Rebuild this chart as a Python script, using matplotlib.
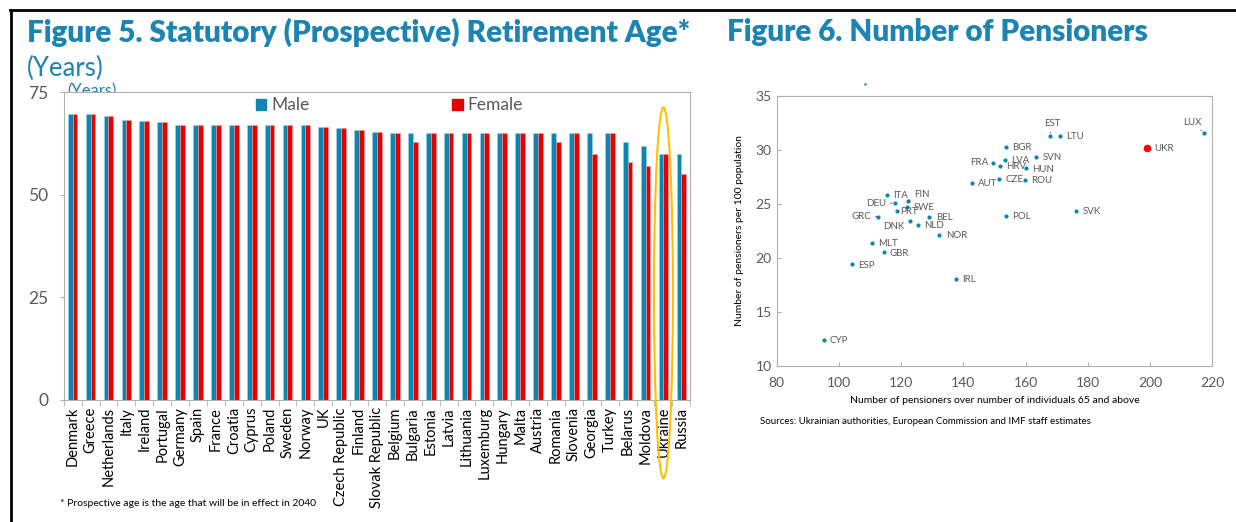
import matplotlib.pyplot as plt
from matplotlib.patches import Ellipse, Patch
import numpy as np

plt.rcParams['font.family'] = ['Lato', 'DejaVu Sans']

# Figure 5 data
countries = ['Denmark', 'Greece', 'Netherlands', 'Italy', 'Ireland', 'Portugal', 'Germany',
             'Spain', 'France', 'Croatia', 'Cyprus', 'Poland', 'Sweden', 'Norway', 'UK',
             'Czech Republic', 'Finland', 'Slovak Republic', 'Belgium', 'Bulgaria', 'Estonia',
             'Latvia', 'Lithuania', 'Luxemburg', 'Hungary', 'Malta', 'Austria', 'Romania',
             'Slovenia', 'Georgia', 'Turkey', 'Belarus', 'Moldova', 'Ukraine', 'Russia']
male = [69.8, 69.8, 69.3, 68.3, 67.9, 67.7, 67, 67, 67, 67, 67, 67, 67, 67, 66.6,
        66.4, 65.9, 65.3, 65, 65, 65, 65, 65, 65, 65, 65, 65, 65,
        65, 65, 65, 63, 62, 60, 60]
female = [69.8, 69.8, 69.3, 68.3, 67.9, 67.7, 67, 67, 67, 67, 67, 67, 67, 67, 66.6,
          66.4, 65.9, 65.3, 65, 62.8, 65, 65, 65, 65, 65, 65, 65, 62.8,
          65, 60, 65, 58, 57, 60, 55]
age_ticks = [0, 25, 50, 75]

# Figure 6 data
codes = ['EST', 'LTU', 'LUX', 'BGR', 'SVN', 'LVA', 'FRA', 'HRV', 'HUN', 'CZE', 'ROU',
         'AUT', 'ITA', 'FIN', 'DEU', 'SWE', 'PRT', 'GRC', 'BEL', 'DNK', 'NLD', 'NOR',
         'MLT', 'GBR', 'ESP', 'POL', 'SVK', 'IRL', 'CYP']
pens_ratio = [167.9, 170.9, 217.3, 153.6, 163.4, 153.4, 149.4, 151.8, 160.0, 151.5, 159.8,
              142.7, 115.5, 122.3, 118.0, 121.9, 118.7, 112.5, 129.1, 122.7, 125.5, 132.3,
              110.6, 114.4, 104.1, 153.7, 176.2, 137.5, 95.1]
pens_per100 = [31.3, 31.3, 31.55, 30.25, 29.33, 29.05, 28.8, 28.5, 28.28, 27.3, 27.23,
               26.9, 25.84, 25.29, 25.05, 24.73, 24.36, 23.8, 23.8, 23.44, 23.04, 22.11,
               21.35, 20.51, 19.4, 23.87, 24.36, 18.07, 12.4]
ukr_ratio, ukr_per100 = 198.9, 30.19
stray_ratio, stray_per100 = 108.4, 36.05

teal = '#1B84B2'
blue = '#0A86B0'
red = '#E50000'
grey = '#595959'
frame = '#AFAFAF'

fig = plt.figure(figsize=(12.36, 5.22), dpi=100)
W, H = 1236, 522

def px(x0, y0, x1, y1):
    return [x0 / W, 1 - y1 / H, (x1 - x0) / W, (y1 - y0) / H]

# border lines
fig.add_artist(plt.Line2D([10 / W, 1], [1 - 10 / H, 1 - 10 / H], color='black', lw=2))
fig.add_artist(plt.Line2D([11 / W, 11 / W], [0, 1 - 10 / H], color='black', lw=2))

# ---- Figure 5 ----
fig.text(27 / W, 1 - 32 / H, 'Figure 5. Statutory (Prospective) Retirement Age*',
         color=teal, fontsize=21.3, fontweight='heavy', va='center')
fig.text(27 / W, 1 - 68 / H, '(Years)', color=teal, fontsize=18.5, va='center')
fig.text(67 / W, 1 - 91 / H, '(Years)', color=teal, fontsize=12, va='center', zorder=-1)

ax = fig.add_axes(px(63.7, 92.3, 690.3, 400))
x = np.arange(len(countries))
w = 0.27
ax.bar(x - w / 2, male, w, color=blue, edgecolor='#9FD3E6', linewidth=0.4)
ax.bar(x + w / 2, female, w, color=red, edgecolor='#F5A0A0', linewidth=0.4)
ax.set_xlim(-0.5, len(countries) - 0.5)
ax.set_ylim(0, 75)
ax.set_yticks(age_ticks)
ax.set_yticklabels([str(t) for t in age_ticks], color=grey, fontsize=12.5)
ax.set_xticks(x)
ax.set_xticklabels(countries, rotation=90, fontsize=10.5, color='black')
ax.set_xticks(np.arange(len(countries) + 1) - 0.5, minor=True)
ax.tick_params(axis='x', which='major', length=0, pad=5)
ax.tick_params(axis='x', which='minor', length=4, color=frame)
ax.tick_params(axis='y', length=3, color=frame, pad=8)
for s in ax.spines.values():
    s.set_color(frame)
handles = [Patch(color=blue, label='Male'), Patch(color=red, label='Female')]
leg = ax.legend(handles=handles, ncol=2, loc='upper center', bbox_to_anchor=(0.52, 1.035),
                frameon=False, fontsize=12.5, handlelength=0.6, handleheight=0.6,
                handletextpad=0.3, columnspacing=8.2)
for t in leg.get_texts():
    t.set_color(grey)
ax.add_patch(Ellipse((33, 26.1), 1.06, 90.4, fill=False, edgecolor='#FFC000', lw=1.5,
                     clip_on=False, zorder=5))
fig.text(60 / W, 1 - 503 / H, '* Prospective age is the age that will be in effect in 2040',
         fontsize=7.5, va='center')

# ---- Figure 6 ----
fig.text(727 / W, 1 - 32 / H, 'Figure 6. Number of Pensioners',
         color=teal, fontsize=21.3, fontweight='heavy', va='center')

ax2 = fig.add_axes(px(776.7, 95.7, 1212.3, 366))
ax2.scatter(pens_ratio, pens_per100, s=9, color=blue, zorder=3, linewidths=0)
ax2.scatter([ukr_ratio], [ukr_per100], s=30, color='#FF0000', zorder=3, linewidths=0)
ax2.scatter([stray_ratio], [stray_per100], s=3, color=blue, clip_on=False, linewidths=0)
ax2.set_xlim(80, 220)
ax2.set_ylim(10, 35)
ax2.set_xticks(range(80, 221, 20))
ax2.set_yticks(range(10, 36, 5))
ax2.tick_params(labelsize=10, labelcolor=grey, color=frame, length=3, direction='in')
ax2.tick_params(axis='x', pad=8)
for s in ax2.spines.values():
    s.set_color(frame)

offsets = {'EST': (1.2, 8.9, 'center'), 'LUX': (-8.4, 7.9, 'center'),
           'FRA': (-3, 0, 'right'), 'DEU': (-6.2, 0, 'right'), 'GRC': (-4.8, 0, 'right'),
           'DNK': (-3.4, -4.3, 'right'), 'FIN': (4.3, 4.1, 'left'), 'PRT': (2, -0.6, 'left')}
leaders = ['EST', 'LUX', 'DEU', 'GRC', 'FIN']
lab_kw = dict(fontsize=7, color=grey, va='center', textcoords='offset points')
for c, xv, yv in zip(codes, pens_ratio, pens_per100):
    dx, dy, ha = offsets.get(c, (4.5, -0.5, 'left'))
    arrow = dict(arrowstyle='-', color=grey, lw=0.6, shrinkA=1, shrinkB=2) if c in leaders else None
    ax2.annotate(c, (xv, yv), xytext=(dx, dy), ha=ha, arrowprops=arrow, **lab_kw)
ax2.annotate('UKR', (ukr_ratio, ukr_per100), xytext=(5.5, -0.5), ha='left', **lab_kw)

ax2.set_xlabel('Number of pensioners over number of individuals 65 and above',
               fontsize=7.5, labelpad=5)
ax2.set_ylabel('Number of pensioners per 100 population', fontsize=7.5, labelpad=8)
fig.text(760 / W, 1 - 422 / H,
         'Sources: Ukrainian authorities, European Commission and IMF staff estimates',
         fontsize=7, va='center')

fig.savefig('out.png', dpi=100)
